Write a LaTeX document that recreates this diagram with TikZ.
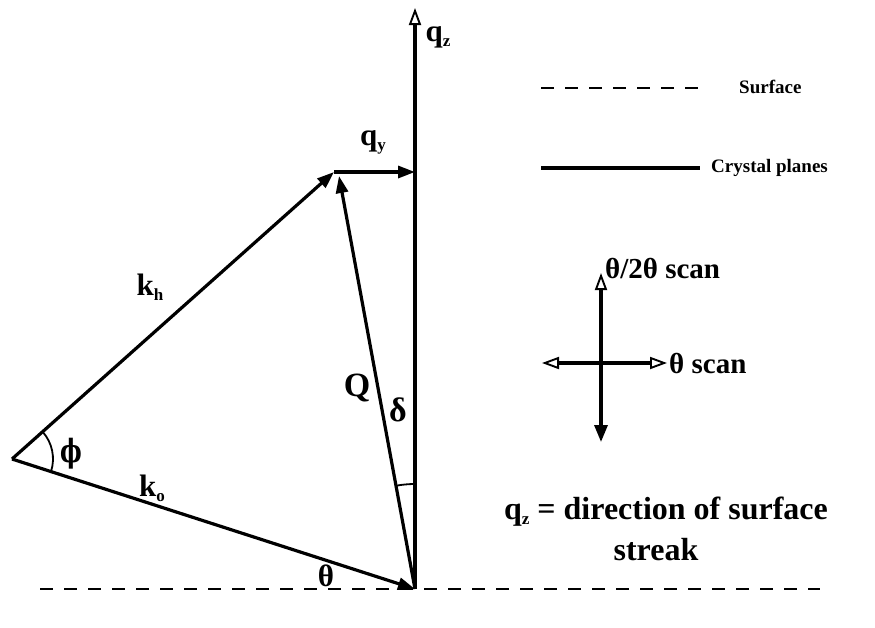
\documentclass[tikz,border=0pt]{standalone}
\usepackage{fontspec}
\setmainfont{Liberation Serif}
\newfontfamily\dvserif{DejaVu Serif}
\usetikzlibrary{arrows.meta}
\newcommand{\lsub}[1]{\raisebox{-5pt}{\fontsize{17}{17}\selectfont #1}}
\begin{document}
\begin{tikzpicture}[x=1pt,y=-1pt,
  ln/.style={line width=3.2pt},
  arr/.style={ln,-{Triangle[length=17pt,width=12pt]}},
  oarr/.style={ln,-{Triangle[open,length=17pt,width=12pt,line width=1.9pt]}},
  farr/.style={ln,-{Triangle[length=17pt,width=13pt]}},
  dsh/.style={line width=2.8pt,dash pattern=on 13pt off 11pt},
  ang/.style={line width=1.8pt},
  lbl/.style={font=\bfseries\fontsize{31}{33}\selectfont, inner sep=0pt},
  big/.style={font=\bfseries\fontsize{32}{38}\selectfont, inner sep=0pt, align=center},
  leg/.style={font=\bfseries\fontsize{19}{21}\selectfont, inner sep=0pt, anchor=west},
  scan/.style={font=\bfseries\fontsize{29}{31}\selectfont, inner sep=0pt, anchor=west}]
\useasboundingbox (0,0) rectangle (875,627);
% main points
\coordinate (O) at (415,589);
\coordinate (A) at (12,459);
\coordinate (B) at (334,172);
\coordinate (BQ) at (339,176);
\coordinate (T) at (415,8);
\coordinate (Y) at (415,172);
\coordinate (DL) at (40,589);
\coordinate (DR) at (820,589);
% surface line
\draw[dsh] (DL) -- (DR);
% axis
\draw[oarr] (O) -- (T);
% vectors
\draw[arr] (A) -- (O);
\draw[arr] (A) -- (B);
\draw[arr] (O) -- (BQ);
\draw[arr] (B) -- (Y);
% angles
\draw[ang] (A) ++(-41.5:41) arc[start angle=-41.5,end angle=17.9,radius=41];
\draw[ang] (O) ++(-100.4:105) arc[start angle=-100.4,end angle=-90,radius=105];
% labels
\node[lbl] (lqz) at (438,37) {q\lsub{z}};
\node[lbl] (lqy) at (373,142) {q\lsub{y}};
\node[lbl] (lkh) at (150,287) {k\lsub{h}};
\node[lbl] (lko) at (152,488) {k\lsub{o}};
\node[lbl, font=\bfseries\fontsize{34}{36}\selectfont] (lQ) at (357,388) {Q};
\node[lbl, font=\bfseries\fontsize{34}{36}\selectfont] (ld) at (398,410) {δ};
\node[lbl, font=\dvserif\bfseries\fontsize{32}{34}\selectfont, xscale=0.72] (lphi) at (71,454) {ϕ};
\node[lbl, font=\bfseries\fontsize{31}{33}\selectfont] (lth) at (326,576) {θ};
% legend
\coordinate (s1) at (541,88);
\coordinate (s2) at (700,88);
\coordinate (c1) at (541,168);
\coordinate (c2) at (700,168);
\draw[dsh] (s1) -- (s2);
\draw[ln] (c1) -- (c2);
\node[leg] (lsurf) at (739,87) {Surface};
\node[leg] (lcry) at (711,168) {Crystal planes};
% scan cross
\coordinate (X) at (601,363);
\coordinate (Xu) at (601,273);
\coordinate (Xd) at (601,442);
\coordinate (Xl) at (542,363);
\coordinate (Xr) at (667,363);
\draw[oarr] (X) -- (Xu);
\draw[farr] (X) -- (Xd);
\draw[oarr] (X) -- (Xl);
\draw[oarr] (X) -- (Xr);
\node[scan] (l2t) at (605,268) {θ/2θ scan};
\node[scan] (lt) at (669,363) {θ scan};
% caption
\node[big] (cap1) at (666,512) {q\lsub{z} = direction of surface};
\node[big] (cap2) at (656,550) {streak};
\end{tikzpicture}
\end{document}
